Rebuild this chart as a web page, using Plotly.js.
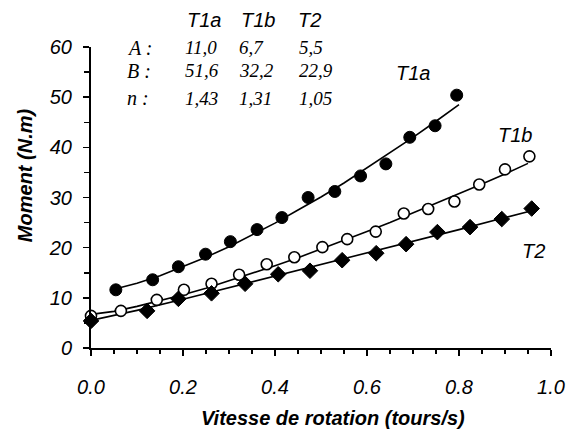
<!DOCTYPE html>
<html>
<head>
<meta charset="utf-8">
<script src="https://cdn.plot.ly/plotly-3.0.1.min.js"></script>
<style>html,body{margin:0;padding:0;background:#fff;}#chart{width:573px;height:429px;}</style>
</head>
<body>
<div id="chart"></div>
<script>
// Measured points
const t1aX = [0.054, 0.134, 0.190, 0.249, 0.303, 0.361, 0.415, 0.472, 0.530, 0.586, 0.641, 0.693, 0.748, 0.795];
const t1aY = [11.6, 13.6, 16.2, 18.7, 21.2, 23.6, 26.0, 30.0, 31.2, 34.3, 36.7, 42.0, 44.3, 50.4];
const t1bX = [0.000, 0.065, 0.143, 0.202, 0.262, 0.322, 0.382, 0.442, 0.503, 0.557, 0.619, 0.680, 0.733, 0.790, 0.844, 0.900, 0.953];
const t1bY = [6.4, 7.4, 9.6, 11.6, 12.8, 14.6, 16.7, 18.1, 20.1, 21.7, 23.2, 26.8, 27.7, 29.2, 32.6, 35.6, 38.2];
const t2X = [0.000, 0.122, 0.190, 0.262, 0.335, 0.407, 0.476, 0.546, 0.620, 0.685, 0.753, 0.824, 0.893, 0.958];
const t2Y = [5.4, 7.4, 9.8, 10.9, 12.8, 14.7, 15.4, 17.5, 18.9, 20.7, 23.1, 24.1, 25.7, 27.8];

// Fitted curves
const t1aLineX = [0.05, 0.10, 0.15, 0.20, 0.25, 0.30, 0.35, 0.40, 0.45, 0.50, 0.55, 0.60, 0.65, 0.70, 0.75, 0.80];
const t1aLineY = [11.7, 12.9, 14.4, 16.2, 18.1, 20.2, 22.5, 24.9, 27.5, 30.1, 32.9, 35.9, 38.9, 42.0, 45.2, 48.5];
const t1bLineX = [0.00, 0.05, 0.10, 0.15, 0.20, 0.25, 0.30, 0.35, 0.40, 0.45, 0.50, 0.55, 0.60, 0.65, 0.70, 0.75, 0.80, 0.85, 0.90, 0.95];
const t1bLineY = [6.7, 7.3, 8.3, 9.4, 10.6, 11.9, 13.4, 14.8, 16.4, 18.0, 19.7, 21.4, 23.2, 25.0, 26.9, 28.8, 30.7, 32.7, 34.7, 36.8];
const t2LineX = [0.00, 0.10, 0.20, 0.30, 0.40, 0.50, 0.60, 0.70, 0.80, 0.90, 0.96];
const t2LineY = [5.5, 7.5, 9.7, 12.0, 14.3, 16.6, 18.9, 21.3, 23.6, 26.0, 27.4];

// Parameter table
const seriesNames = ['T1a', 'T1b', 'T2'];
const rowLabels = ['A :', 'B :', 'n :'];
const paramA = ['11,0', '6,7', '5,5'];
const paramB = ['51,6', '32,2', '22,9'];
const paramN = ['1,43', '1,31', '1,05'];

const xTickVals = [0, 0.2, 0.4, 0.6, 0.8, 1.0];
const xTickText = ['0.0', '0.2', '0.4', '0.6', '0.8', '1.0'];
const xTitle = 'Vitesse de rotation (tours/s)';
const yTitle = 'Moment (N.m)';

const sans = 'Liberation Sans, Arial, sans-serif';
const serif = 'Liberation Serif, Times New Roman, serif';

const lineStyle = {color: '#000', width: 1.6};
const traces = [
  {x: t1aLineX, y: t1aLineY, mode: 'lines', line: lineStyle, hoverinfo: 'skip', cliponaxis: false},
  {x: t1bLineX, y: t1bLineY, mode: 'lines', line: lineStyle, hoverinfo: 'skip', cliponaxis: false},
  {x: t2LineX, y: t2LineY, mode: 'lines', line: lineStyle, hoverinfo: 'skip', cliponaxis: false},
  {x: t1aX, y: t1aY, mode: 'markers', cliponaxis: false,
   marker: {symbol: 'circle', size: 12, color: '#000', line: {color: '#000', width: 1}}},
  {x: t1bX, y: t1bY, mode: 'markers', cliponaxis: false,
   marker: {symbol: 'circle', size: 11, color: '#fff', line: {color: '#000', width: 1.6}}},
  {x: t2X, y: t2Y, mode: 'markers', cliponaxis: false,
   marker: {symbol: 'diamond', size: 12, color: '#000', line: {color: '#000', width: 1}}}
];

const annotations = [];
// curve labels
const curveLabelPos = [[0.699, 54.8], [0.921, 42.5], [0.962, 19.3]];
seriesNames.forEach((n, i) => annotations.push({
  x: curveLabelPos[i][0], y: curveLabelPos[i][1], xref: 'x', yref: 'y', text: n, showarrow: false,
  font: {family: sans, size: 20, color: '#000', style: 'italic'}, xanchor: 'center', yanchor: 'middle'
}));
// table header (paper y above plot)
const headerX = [0.245, 0.363, 0.476];
seriesNames.forEach((n, i) => annotations.push({
  x: headerX[i], y: 1.09, xref: 'x', yref: 'paper', text: n, showarrow: false,
  font: {family: sans, size: 20, color: '#000', style: 'italic'}, xanchor: 'center', yanchor: 'middle'
}));
const rowY = [59.9, 55.3, 49.8];
const rowVals = [paramA, paramB, paramN];
const colX = [0.200, 0.317, 0.447];
rowLabels.forEach((lab, r) => {
  annotations.push({x: 0.074, y: rowY[r], xref: 'x', yref: 'y', text: lab, showarrow: false,
    font: {family: serif, size: 20, color: '#000', style: 'italic'}, xanchor: 'left', yanchor: 'middle'});
  rowVals[r].forEach((v, c) => annotations.push({
    x: colX[c], y: rowY[r], xref: 'x', yref: 'y', text: v, showarrow: false,
    font: {family: serif, size: 19, color: '#000', style: 'italic'}, xanchor: 'left', yanchor: 'middle'
  }));
});
// axis titles
annotations.push({x: 0.525, y: -0.233, xref: 'paper', yref: 'paper', text: '<b><i>' + xTitle + '</i></b>',
  showarrow: false, font: {family: sans, size: 20, color: '#000'}, xanchor: 'center', yanchor: 'middle'});
annotations.push({x: -0.143, y: 0.575, xref: 'paper', yref: 'paper', text: '<b><i>' + yTitle + '</i></b>',
  textangle: -90, showarrow: false, font: {family: sans, size: 20, color: '#000'}, xanchor: 'center', yanchor: 'middle'});

const layout = {
  width: 573, height: 429,
  margin: {l: 91, r: 22, t: 47, b: 81},
  paper_bgcolor: '#fff', plot_bgcolor: '#fff',
  showlegend: false,
  font: {family: sans, color: '#000'},
  xaxis: {
    range: [0, 1], showgrid: false, zeroline: false,
    showline: true, linecolor: '#000', linewidth: 2,
    ticks: 'outside', ticklen: 6, tickwidth: 1.5, tickcolor: '#000',
    tickvals: xTickVals, ticktext: xTickText,
    tickfont: {family: sans, size: 20, style: 'italic'},
    ticklabelstandoff: 14,
    minor: {dtick: 0.05, ticks: 'outside', ticklen: 4, tickwidth: 1.5, tickcolor: '#000', showgrid: false}
  },
  yaxis: {
    range: [0, 60], showgrid: false, zeroline: false,
    showline: true, linecolor: '#000', linewidth: 2,
    ticks: 'outside', ticklen: 6, tickwidth: 1.5, tickcolor: '#000',
    dtick: 10,
    tickfont: {family: sans, size: 20, style: 'italic'},
    ticklabelstandoff: 7,
    minor: {dtick: 5, ticks: 'outside', ticklen: 5, tickwidth: 1.5, tickcolor: '#000', showgrid: false}
  },
  xaxis2: {
    range: [0, 1], overlaying: 'x', anchor: 'y', side: 'bottom', showgrid: false, zeroline: false,
    showline: false, ticks: 'inside', ticklen: 6, tickwidth: 1.5, tickcolor: '#000',
    tickvals: xTickVals, showticklabels: false
  },
  yaxis2: {
    range: [0, 60], overlaying: 'y', anchor: 'x', side: 'left', showgrid: false, zeroline: false,
    showline: false, ticks: 'inside', ticklen: 6, tickwidth: 1.5, tickcolor: '#000',
    dtick: 10, showticklabels: false
  },
  annotations: annotations
};

Plotly.newPlot('chart', traces, layout, {staticPlot: true, displayModeBar: false});
</script>
</body>
</html>
